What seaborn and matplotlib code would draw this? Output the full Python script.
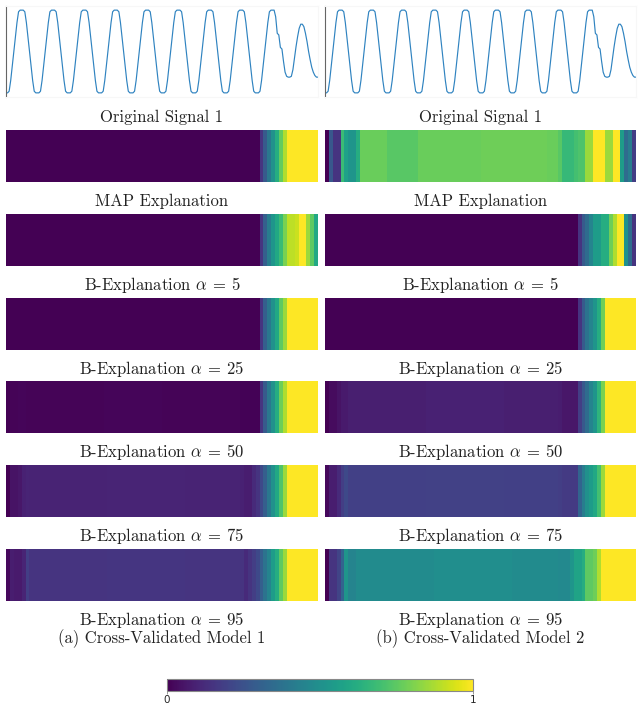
import numpy as np
import matplotlib
matplotlib.use("Agg")
import matplotlib.pyplot as plt
import seaborn as sns
from matplotlib.colors import Normalize
from matplotlib.cm import ScalarMappable

sns.set_style("white")
plt.rcParams['font.family'] = ['DejaVu Sans']
plt.rcParams['mathtext.fontset'] = 'cm'

# ---------------- data ----------------
signal = [
    0, 0, 0.02, 0.15, 0.32, 0.5, 0.68, 0.85, 0.98, 1, 1, 1, 0.98, 0.85, 0.68, 0.5, 0.32, 0.15, 0.02, 0,
    0, 0, 0.02, 0.15, 0.32, 0.5, 0.68, 0.85, 0.98, 1, 1, 1, 0.98, 0.85, 0.68, 0.5, 0.32, 0.15, 0.02, 0,
    0, 0, 0.02, 0.15, 0.32, 0.5, 0.68, 0.85, 0.98, 1, 1, 1, 0.98, 0.85, 0.68, 0.5, 0.32, 0.15, 0.02, 0,
    0, 0, 0.02, 0.15, 0.32, 0.5, 0.68, 0.85, 0.98, 1, 1, 1, 0.98, 0.85, 0.68, 0.5, 0.32, 0.15, 0.02, 0,
    0, 0, 0.02, 0.15, 0.32, 0.5, 0.68, 0.85, 0.98, 1, 1, 1, 0.98, 0.85, 0.68, 0.5, 0.32, 0.15, 0.02, 0,
    0, 0, 0.02, 0.15, 0.32, 0.5, 0.68, 0.85, 0.98, 1, 1, 1, 0.98, 0.85, 0.68, 0.5, 0.32, 0.15, 0.02, 0,
    0, 0, 0.02, 0.15, 0.32, 0.5, 0.68, 0.85, 0.98, 1, 1, 1, 0.98, 0.85, 0.68, 0.5, 0.32, 0.15, 0.02, 0,
    0, 0, 0.02, 0.15, 0.32, 0.5, 0.68, 0.85, 0.98, 1, 1, 1, 0.98, 0.85, 0.68, 0.5, 0.32, 0.15, 0.02, 0,
    0, 0, 0.02, 0.15, 0.32, 0.5, 0.68, 0.85, 0.98, 1, 1, 1, 0.92, 0.72, 0.70, 0.55, 0.53, 0.38, 0.25, 0.2,
    0.19, 0.19, 0.2, 0.28, 0.42, 0.56, 0.68, 0.78, 0.83, 0.83, 0.8, 0.72, 0.62, 0.5, 0.4, 0.31, 0.25, 0.21, 0.19, 0.19,
]

# Model 1 explanations (80 segments each)
map_m1 = [0.0] * 65 + [0.15, 0.28, 0.4, 0.5, 0.62, 0.76, 0.88] + [1.0] * 8
b5_m1 = [0.0] * 65 + [0.15, 0.3, 0.42, 0.52, 0.6, 0.68, 0.8, 0.9, 0.9, 0.92, 1.0, 1.0, 0.85, 0.75, 0.6]
b25_m1 = [0.0] * 65 + [0.15, 0.3, 0.4, 0.5, 0.6, 0.75, 0.85] + [1.0] * 8
b50_m1 = ([0.0, 0.01, 0.01, 0.012, 0.012] + [0.01] * 20 + [0.012] * 15 + [0.01] * 20 + [0.006] * 5
          + [0.15, 0.28, 0.4, 0.5, 0.62, 0.78, 0.88] + [1.0] * 8)
b75_m1 = ([0.0, 0.05, 0.05, 0.06, 0.09, 0.1] + [0.095] * 20 + [0.1] * 20 + [0.095] * 14
          + [0.09, 0.08, 0.08, 0.12, 0.15]
          + [0.22, 0.3, 0.4, 0.5, 0.6, 0.72, 0.85] + [1.0] * 8)
b95_m1 = ([0.02, 0.08, 0.07, 0.07, 0.1, 0.18] + [0.15] * 20 + [0.155] * 20 + [0.15] * 14
          + [0.15, 0.12, 0.15, 0.18, 0.22]
          + [0.3, 0.38, 0.45, 0.55, 0.62, 0.75, 0.85] + [1.0] * 8)

# Model 2 explanations
map_m2 = ([0.0, 0.27, 0.15, 0.15, 0.68, 0.57, 0.52, 0.52, 0.62] + [0.77] * 7 + [0.74] * 8
          + [0.77] * 16 + [0.78] * 17 + [0.77] * 3 + [0.74, 0.67, 0.67, 0.67, 0.7, 0.72, 0.72,
          0.85, 0.85, 1.0, 1.0, 1.0, 0.85, 0.85, 1.0, 1.0, 0.55, 0.35, 0.42, 0.18])
b5_m2 = [0.0] * 65 + [0.15, 0.28, 0.35, 0.45, 0.55, 0.55, 0.62, 0.62, 0.78, 0.88, 1.0, 1.0, 0.5, 0.35, 0.15]
b25_m2 = [0.0] * 65 + [0.15, 0.28, 0.38, 0.45, 0.52, 0.62, 0.78] + [1.0] * 8
b50_m2 = ([0.0, 0.03, 0.03, 0.05, 0.07, 0.07] + [0.085] * 20 + [0.09] * 20 + [0.085] * 14
          + [0.08, 0.06, 0.06, 0.06, 0.06]
          + [0.18, 0.27, 0.35, 0.45, 0.52, 0.65, 0.8] + [1.0] * 8)
b75_m2 = ([0.02, 0.08, 0.08, 0.12, 0.18, 0.22] + [0.19] * 20 + [0.195] * 20 + [0.19] * 14
          + [0.18, 0.17, 0.17, 0.17, 0.17]
          + [0.32, 0.42, 0.5, 0.55, 0.6, 0.7, 0.85] + [1.0] * 8)
b95_m2 = ([0.0, 0.15, 0.15, 0.2, 0.32, 0.52, 0.45, 0.45] + [0.48] * 20 + [0.49] * 20 + [0.48] * 12
          + [0.47, 0.47, 0.47, 0.52, 0.58, 0.58, 0.62, 0.75, 0.75, 0.78, 0.88] + [1.0] * 9)

row_titles = ["MAP Explanation", r"B-Explanation $\alpha \:=\: 5$", r"B-Explanation $\alpha \:=\: 25$",
              r"B-Explanation $\alpha \:=\: 50$", r"B-Explanation $\alpha \:=\: 75$",
              r"B-Explanation $\alpha \:=\: 95$"]
signal_title = "Original Signal 1"
captions = ["(a) Cross-Validated Model 1", "(b) Cross-Validated Model 2"]
columns = [[map_m1, b5_m1, b25_m1, b50_m1, b75_m1, b95_m1],
           [map_m2, b5_m2, b25_m2, b50_m2, b75_m2, b95_m2]]

# ---------------- figure ----------------
W, H = 642, 710
fig = plt.figure(figsize=(W / 100, H / 100), dpi=100)


def ax_px(x0, y0, x1, y1):
    return fig.add_axes([x0 / W, 1 - y1 / H, (x1 - x0) / W, (y1 - y0) / H])


def label_below(ax, text, off_px=19):
    ax.annotate(text, xy=(0.5, 0), xycoords='axes fraction',
                xytext=(0, -off_px * 72 / 100), textcoords='offset points',
                ha='center', va='center', fontsize=12, family='cmr10', color='#222222')


col_x = [(6, 318), (325, 636)]
for ci, (x0, x1) in enumerate(col_x):
    ax = ax_px(x0, 6, x1, 97)
    sns.lineplot(x=np.arange(len(signal)), y=signal, ax=ax, color='#2f83c0', linewidth=0.85)
    ax.set_xlim(0, len(signal) - 1)
    ax.margins(y=0.05)
    ax.set_xticks([]); ax.set_yticks([])
    ax.set_xlabel(''); ax.set_ylabel('')
    for side in ['top', 'right', 'bottom']:
        ax.spines[side].set_color('#f7f7f7')
        ax.spines[side].set_linewidth(0.8)
    ax.spines['left'].set_color('#666666')
    ax.spines['left'].set_linewidth(0.8)
    label_below(ax, signal_title, 20)

    for ri, vals in enumerate(columns[ci]):
        top = 130 + 83.8 * ri
        hx = ax_px(x0, top, x1, top + 52)
        sns.heatmap(np.array(vals)[None, :], ax=hx, cmap='viridis', vmin=0, vmax=1,
                    cbar=False, xticklabels=False, yticklabels=False)
        label_below(hx, row_titles[ri], 19)

    fig.text(((x0 + x1) / 2) / W, 1 - 639 / H, captions[ci], ha='center', va='center',
             fontsize=12, family='cmr10', color='#222222')

cax = ax_px(167, 679, 473, 691)
sm = ScalarMappable(norm=Normalize(0, 1), cmap='viridis')
cb = fig.colorbar(sm, cax=cax, orientation='horizontal', ticks=[0, 1])
cb.outline.set_edgecolor('#888888')
cb.outline.set_linewidth(0.8)
cax.tick_params(length=2, width=0.6, color='#888888', labelsize=7.5, pad=1)
cax.set_xticklabels(['0', '1'])

fig.savefig('out.png', dpi=100)
